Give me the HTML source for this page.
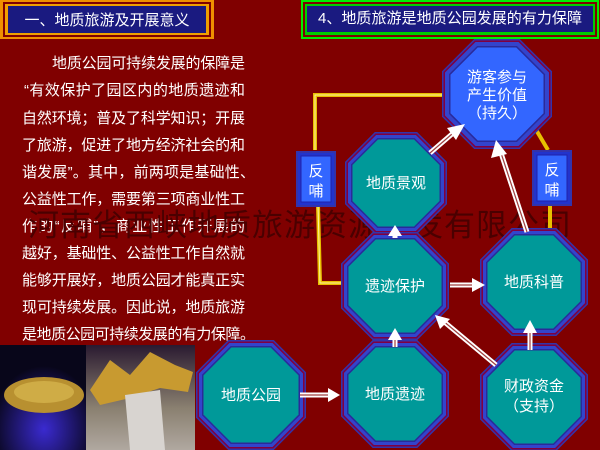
<!DOCTYPE html>
<html><head><meta charset="utf-8"><style>
body{margin:0;width:600px;height:450px;overflow:hidden;background:#800000;}
svg{display:block}
text{font-family:"Liberation Sans","Noto Sans CJK SC",sans-serif;}
</style></head><body>
<svg width="600" height="450" viewBox="0 0 600 450" xmlns="http://www.w3.org/2000/svg">
<defs>
<polygon id="oct" points="-0.414,-1 0.414,-1 1,-0.414 1,0.414 0.414,1 -0.414,1 -1,0.414 -1,-0.414"/>
<radialGradient id="g1" cx="0.5" cy="0.8" r="0.6"><stop offset="0" stop-color="#3a2ad0"/><stop offset="1" stop-color="#08061a"/></radialGradient>
<linearGradient id="g2" x1="0" y1="0" x2="0" y2="1"><stop offset="0" stop-color="#2a1a30"/><stop offset="0.6" stop-color="#8a8070"/><stop offset="1" stop-color="#b0a8a0"/></linearGradient>
</defs>
<rect width="600" height="450" fill="#800000"/>

<!-- headers -->
<rect x="0" y="0" width="214" height="39" fill="#f09000"/>
<rect x="3" y="2" width="208" height="35" fill="#800000"/>
<rect x="5" y="4" width="204" height="31" fill="#f0a000"/>
<rect x="8" y="6" width="198" height="27" fill="#1a1a80"/>
<text x="107" y="25" font-size="15" fill="#fff" text-anchor="middle">一、地质旅游及开展意义</text>

<rect x="301" y="0" width="298" height="39" fill="#00ee00"/>
<rect x="303" y="2" width="294" height="35" fill="#800000"/>
<rect x="305" y="4" width="290" height="31" fill="#00cc00"/>
<rect x="307" y="6" width="286" height="26" fill="#1a1a80"/>
<text x="318" y="23" font-size="15" fill="#fff" textLength="264" lengthAdjust="spacingAndGlyphs">4、地质旅游是地质公园发展的有力保障</text>

<!-- paragraph -->
<g font-size="15" fill="#fff" lengthAdjust="spacing">
<text x="52" y="68" textLength="193">地质公园可持续发展的保障是</text>
<text x="24" y="95" textLength="221">“有效保护了园区内的地质遗迹和</text>
<text x="22" y="123" textLength="223">自然环境；普及了科学知识；开展</text>
<text x="22" y="150" textLength="223">了旅游，促进了地方经济社会的和</text>
<text x="22" y="177" textLength="233">谐发展”。其中，前两项是基础性、</text>
<text x="22" y="204" textLength="223">公益性工作，需要第三项商业性工</text>
<text x="22" y="231" textLength="223">作的“反哺”，商业性工作开展的</text>
<text x="22" y="258" textLength="223">越好，基础性、公益性工作自然就</text>
<text x="22" y="285" textLength="223">能够开展好，地质公园才能真正实</text>
<text x="22" y="312" textLength="223">现可持续发展。因此说，地质旅游</text>
<text x="22" y="339" textLength="233">是地质公园可持续发展的有力保障。</text>
</g>

<!-- images -->
<rect x="0" y="345" width="88" height="105" fill="url(#g1)"/>
<ellipse cx="44" cy="395" rx="40" ry="18" fill="#b89030"/>
<ellipse cx="44" cy="392" rx="30" ry="11" fill="#d8b850" opacity="0.7"/>
<rect x="86" y="345" width="109" height="105" fill="url(#g2)"/>
<polygon points="90,390 110,360 130,375 150,352 175,365 193,372 188,392 160,388 130,398 100,405" fill="#c89a30"/>
<polygon points="125,395 160,390 165,450 130,450" fill="#d8d4d0"/>

<!-- watermark -->
<text x="28" y="236" font-size="31" fill="#4a0000" letter-spacing="1">河南省西峡地质旅游资源开发有限公司</text>

<!-- yellow lines -->
<g stroke="#e8c000" stroke-width="4" fill="none">
<polyline points="315,150 315,95 446,95"/>
<polyline points="318,205 320,283 346,283"/>
<line x1="535" y1="128" x2="548" y2="150"/>
<line x1="550" y1="205" x2="550" y2="238"/>
</g>
<g stroke="#fff4a0" stroke-width="1" fill="none">
<polyline points="315,150 315,95 446,95"/>
<polyline points="318,205 320,283 346,283"/>
</g>

<!-- feedback boxes -->
<g>
<rect x="296" y="151" width="40" height="56" fill="#3333aa"/>
<rect x="298" y="153" width="36" height="52" fill="#2233cc"/>
<rect x="301" y="156" width="30" height="46" fill="#3366ff" stroke="#2222aa" stroke-width="1"/>
<text x="316" y="176" font-size="15" fill="#fff" text-anchor="middle">反</text>
<text x="316" y="196" font-size="15" fill="#fff" text-anchor="middle">哺</text>
<rect x="532" y="150" width="40" height="56" fill="#3333aa"/>
<rect x="534" y="152" width="36" height="52" fill="#2233cc"/>
<rect x="537" y="155" width="30" height="46" fill="#3366ff" stroke="#2222aa" stroke-width="1"/>
<text x="552" y="175" font-size="15" fill="#fff" text-anchor="middle">反</text>
<text x="552" y="195" font-size="15" fill="#fff" text-anchor="middle">哺</text>
</g>

<!-- octagons -->
<g transform="translate(497,94)">
<use href="#oct" transform="scale(55)" fill="#3333aa"/>
<use href="#oct" transform="scale(53.5)" fill="#800040"/>
<use href="#oct" transform="scale(52)" fill="#3344cc"/>
<use href="#oct" transform="scale(48)" fill="#2a2a9a"/>
<use href="#oct" transform="scale(46.5)" fill="#3366ff"/>
<text y="-12" font-size="15" fill="#fff" text-anchor="middle">游客参与</text>
<text y="6" font-size="15" fill="#fff" text-anchor="middle">产生价值</text>
<text y="24" font-size="15" fill="#fff" text-anchor="middle">（持久）</text>
</g>
<g font-size="15" fill="#fff" text-anchor="middle">
<g transform="translate(396,183)"><use href="#oct" transform="scale(51)" fill="#3333aa"/><use href="#oct" transform="scale(49.5)" fill="#800040"/><use href="#oct" transform="scale(48)" fill="#3344cc"/><use href="#oct" transform="scale(45)" fill="#2a2a9a"/><use href="#oct" transform="scale(43.5)" fill="#009999"/><text y="5">地质景观</text></g>
<g transform="translate(395,286)"><use href="#oct" transform="scale(54)" fill="#3333aa"/><use href="#oct" transform="scale(52.5)" fill="#800040"/><use href="#oct" transform="scale(51)" fill="#3344cc"/><use href="#oct" transform="scale(48)" fill="#2a2a9a"/><use href="#oct" transform="scale(46.5)" fill="#009999"/><text y="5">遗迹保护</text></g>
<g transform="translate(534,282)"><use href="#oct" transform="scale(54)" fill="#3333aa"/><use href="#oct" transform="scale(52.5)" fill="#800040"/><use href="#oct" transform="scale(51)" fill="#3344cc"/><use href="#oct" transform="scale(48)" fill="#2a2a9a"/><use href="#oct" transform="scale(46.5)" fill="#009999"/><text y="5">地质科普</text></g>
<g transform="translate(251,395)"><use href="#oct" transform="scale(55)" fill="#3333aa"/><use href="#oct" transform="scale(53.5)" fill="#800040"/><use href="#oct" transform="scale(52)" fill="#3344cc"/><use href="#oct" transform="scale(49)" fill="#2a2a9a"/><use href="#oct" transform="scale(47.5)" fill="#009999"/><text y="5">地质公园</text></g>
<g transform="translate(395,394)"><use href="#oct" transform="scale(54)" fill="#3333aa"/><use href="#oct" transform="scale(52.5)" fill="#800040"/><use href="#oct" transform="scale(51)" fill="#3344cc"/><use href="#oct" transform="scale(48)" fill="#2a2a9a"/><use href="#oct" transform="scale(46.5)" fill="#009999"/><text y="5">地质遗迹</text></g>
<g transform="translate(534,397)"><use href="#oct" transform="scale(54)" fill="#3333aa"/><use href="#oct" transform="scale(52.5)" fill="#800040"/><use href="#oct" transform="scale(51)" fill="#3344cc"/><use href="#oct" transform="scale(48)" fill="#2a2a9a"/><use href="#oct" transform="scale(46.5)" fill="#009999"/><text y="-6">财政资金</text><text y="14">（支持）</text></g>
</g>

<!-- arrows -->
<g stroke="#fff" stroke-width="5" fill="none">
<line x1="430" y1="153" x2="452" y2="134"/>
<line x1="527" y1="232" x2="500" y2="150"/>
<line x1="395" y1="238" x2="395" y2="232"/>
<line x1="450" y1="285" x2="472" y2="285"/>
<line x1="395" y1="347" x2="395" y2="335"/>
<line x1="496" y1="365" x2="442" y2="320"/>
<line x1="530" y1="350" x2="530" y2="330"/>
<line x1="300" y1="395" x2="330" y2="395"/>
</g>
<g stroke="#a04040" stroke-width="1.2" fill="none">
<line x1="430" y1="153" x2="452" y2="134"/>
<line x1="527" y1="232" x2="500" y2="150"/>
<line x1="450" y1="285" x2="472" y2="285"/>
<line x1="395" y1="347" x2="395" y2="335"/>
<line x1="496" y1="365" x2="442" y2="320"/>
<line x1="530" y1="350" x2="530" y2="330"/>
<line x1="300" y1="395" x2="330" y2="395"/>
</g>
<g fill="#fff">
<polygon points="465,124 447,128 456,140"/>
<polygon points="496,140 491,158 507,154"/>
<polygon points="395,225 388,236 402,236"/>
<polygon points="485,285 472,278 472,292"/>
<polygon points="395,328 388,340 402,340"/>
<polygon points="435,315 440,329 450,319"/>
<polygon points="530,320 523,333 537,333"/>
<polygon points="340,395 328,388 328,402"/>
</g>
</svg>
</body></html>
